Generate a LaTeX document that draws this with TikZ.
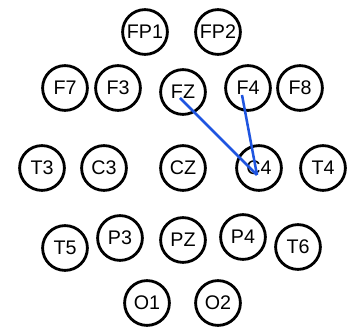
\documentclass[tikz,border=0pt]{standalone}
\usepackage{fontspec}
\setmainfont{Liberation Sans}
\usepackage{xcolor}
\usepackage{tikz}
\usetikzlibrary{arrows.meta,positioning,calc}
\definecolor{wire}{HTML}{1F55E0}

\begin{document}
\begin{tikzpicture}[x=0.025cm, y=-0.025cm, font=\fontsize{14}{14}\selectfont,
  elec/.style={circle, draw=black, line width=2pt, minimum size=1.12cm, inner sep=0pt},
  link/.style={draw=wire, line width=1.8pt}]
\useasboundingbox (0,0) rectangle (357,328);
% electrode macro: name, x, y (pixel grid)
\def\E#1#2#3{\node[elec] (#1) at (#2,#3) {#1};}
% frontal pole
\E{FP1}{145}{32}  \E{FP2}{218}{32}
% frontal
\E{F7}{65}{88}  \E{F3}{118}{88}  \E{FZ}{183}{92}  \E{F4}{248}{88}  \E{F8}{300}{88}
% central / temporal
\E{T3}{42}{168}  \E{C3}{104}{168}  \E{CZ}{183}{168}  \E{C4}{259}{168}  \E{T4}{323}{168}
% parietal
\E{T5}{65}{248}  \E{P3}{120}{238}  \E{PZ}{183}{240}  \E{P4}{243}{237}  \E{T6}{298}{247}
% occipital
\E{O1}{147}{303}  \E{O2}{218}{303}
% connections
\draw[link] ([shift={(-3,6)}]FZ.center) -- ([shift={(-2,7)}]C4.center);
\draw[link] ([shift={(-6,7)}]F4.center) -- ([shift={(-2,7)}]C4.center);
\end{tikzpicture}
\end{document}
